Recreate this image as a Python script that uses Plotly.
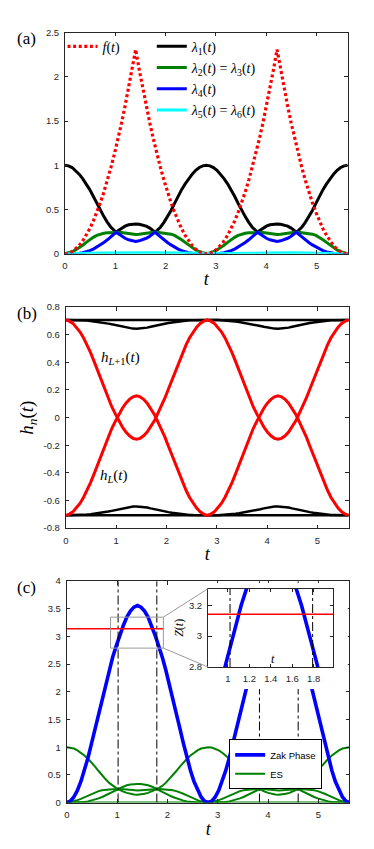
import plotly.graph_objects as go

W, H = 374, 849
SERIF = '"Liberation Serif", "Times New Roman", serif'
SANS = '"Liberation Sans", Arial, sans-serif'
AXC = "#262626"

# ---------------- data ----------------
t = [0.000, 0.070, 0.141, 0.211, 0.281, 0.351, 0.422, 0.492, 0.562, 0.632, 0.703, 0.773, 0.843, 0.913, 0.984, 1.020, 1.054, 1.124, 1.194, 1.265, 1.335, 1.405,
     1.475, 1.546, 1.616, 1.686, 1.756, 1.790, 1.827, 1.897, 1.967, 2.037, 2.108, 2.178, 2.248, 2.318, 2.389, 2.459, 2.529, 2.599, 2.670, 2.740, 2.810,
     2.880, 2.951, 3.021, 3.091, 3.161, 3.232, 3.302, 3.372, 3.442, 3.513, 3.583, 3.653, 3.723, 3.794, 3.830, 3.864, 3.934, 4.004, 4.075, 4.145, 4.215,
     4.285, 4.356, 4.426, 4.496, 4.566, 4.600, 4.637, 4.707, 4.777, 4.847, 4.918, 4.988, 5.058, 5.128, 5.199, 5.269, 5.339, 5.409, 5.480, 5.550, 5.620]

f_t = [0, 0.006, 0.023, 0.052, 0.092, 0.144, 0.208, 0.283, 0.369, 0.468, 0.577, 0.699, 0.831, 0.976, 1.132, 1.217, 1.299, 1.478, 1.669, 1.871, 2.084, 2.31,
       2.084, 1.871, 1.669, 1.478, 1.299, 1.217, 1.132, 0.976, 0.831, 0.699, 0.577, 0.468, 0.369, 0.283, 0.208, 0.144, 0.092, 0.052, 0.023, 0.006, 0,
       0.006, 0.023, 0.052, 0.092, 0.144, 0.208, 0.283, 0.369, 0.468, 0.577, 0.699, 0.831, 0.976, 1.132, 1.217, 1.299, 1.478, 1.669, 1.871, 2.084, 2.31,
       2.084, 1.871, 1.669, 1.478, 1.299, 1.217, 1.132, 0.976, 0.831, 0.699, 0.577, 0.468, 0.369, 0.283, 0.208, 0.144, 0.092, 0.052, 0.023, 0.006, 0]

lam1 = [1.0, 0.994, 0.975, 0.943, 0.9, 0.85, 0.79, 0.725, 0.65, 0.57, 0.49, 0.42, 0.355, 0.3, 0.262, 0.245, 0.26, 0.29, 0.312, 0.327, 0.334, 0.336,
        0.334, 0.327, 0.312, 0.29, 0.26, 0.245, 0.262, 0.3, 0.355, 0.42, 0.49, 0.57, 0.65, 0.725, 0.79, 0.85, 0.9, 0.943, 0.975, 0.994, 1.0,
        0.994, 0.975, 0.943, 0.9, 0.85, 0.79, 0.725, 0.65, 0.57, 0.49, 0.42, 0.355, 0.3, 0.262, 0.245, 0.26, 0.29, 0.312, 0.327, 0.334, 0.336,
        0.334, 0.327, 0.312, 0.29, 0.26, 0.245, 0.262, 0.3, 0.355, 0.42, 0.49, 0.57, 0.65, 0.725, 0.79, 0.85, 0.9, 0.943, 0.975, 0.994, 1.0]

lam23 = [0, 0.01, 0.022, 0.043, 0.067, 0.097, 0.129, 0.159, 0.186, 0.207, 0.221, 0.232, 0.237, 0.239, 0.243, 0.245, 0.243, 0.24, 0.234, 0.227, 0.221, 0.217,
         0.221, 0.227, 0.234, 0.24, 0.243, 0.245, 0.243, 0.239, 0.237, 0.232, 0.221, 0.207, 0.186, 0.159, 0.129, 0.097, 0.067, 0.043, 0.022, 0.01, 0,
         0.01, 0.022, 0.043, 0.067, 0.097, 0.129, 0.159, 0.186, 0.207, 0.221, 0.232, 0.237, 0.239, 0.243, 0.245, 0.243, 0.24, 0.234, 0.227, 0.221, 0.217,
         0.221, 0.227, 0.234, 0.24, 0.243, 0.245, 0.243, 0.239, 0.237, 0.232, 0.221, 0.207, 0.186, 0.159, 0.129, 0.097, 0.067, 0.043, 0.022, 0.01, 0]

lam4 = [0, 0.0001, 0.0005, 0.002, 0.005, 0.011, 0.021, 0.035, 0.053, 0.075, 0.1, 0.128, 0.158, 0.19, 0.225, 0.245, 0.228, 0.198, 0.175, 0.158, 0.146, 0.14,
        0.146, 0.158, 0.175, 0.198, 0.228, 0.245, 0.225, 0.19, 0.158, 0.128, 0.1, 0.075, 0.053, 0.035, 0.021, 0.011, 0.005, 0.002, 0.0005, 0.0001, 0,
        0.0001, 0.0005, 0.002, 0.005, 0.011, 0.021, 0.035, 0.053, 0.075, 0.1, 0.128, 0.158, 0.19, 0.225, 0.245, 0.228, 0.198, 0.175, 0.158, 0.146, 0.14,
        0.146, 0.158, 0.175, 0.198, 0.228, 0.245, 0.225, 0.19, 0.158, 0.128, 0.1, 0.075, 0.053, 0.035, 0.021, 0.011, 0.005, 0.002, 0.0005, 0.0001, 0]

lam56 = [0, 0, 0.0002, 0.0005, 0.001, 0.0017, 0.0025, 0.0035, 0.0045, 0.0056, 0.0067, 0.0078, 0.0088, 0.0097, 0.0105, 0.0108, 0.0112, 0.0117, 0.0121, 0.0124, 0.0126, 0.0127,
         0.0126, 0.0124, 0.0121, 0.0117, 0.0112, 0.0108, 0.0105, 0.0097, 0.0088, 0.0078, 0.0067, 0.0056, 0.0045, 0.0035, 0.0025, 0.0017, 0.001, 0.0005, 0.0002, 0, 0,
         0, 0.0002, 0.0005, 0.001, 0.0017, 0.0025, 0.0035, 0.0045, 0.0056, 0.0067, 0.0078, 0.0088, 0.0097, 0.0105, 0.0108, 0.0112, 0.0117, 0.0121, 0.0124, 0.0126, 0.0127,
         0.0126, 0.0124, 0.0121, 0.0117, 0.0112, 0.0108, 0.0105, 0.0097, 0.0088, 0.0078, 0.0067, 0.0056, 0.0045, 0.0035, 0.0025, 0.0017, 0.001, 0.0005, 0.0002, 0, 0]

h_L1 = [0.707, 0.698, 0.682, 0.655, 0.621, 0.578, 0.526, 0.47, 0.407, 0.34, 0.271, 0.205, 0.14, 0.079, 0.027, 0.0, -0.025, -0.068, -0.104, -0.132, -0.15, -0.157,
        -0.15, -0.132, -0.104, -0.068, -0.025, 0.0, 0.027, 0.079, 0.14, 0.205, 0.271, 0.34, 0.407, 0.47, 0.526, 0.578, 0.621, 0.655, 0.682, 0.698, 0.707,
        0.698, 0.682, 0.655, 0.621, 0.578, 0.526, 0.47, 0.407, 0.34, 0.271, 0.205, 0.14, 0.079, 0.027, 0.0, -0.025, -0.068, -0.104, -0.132, -0.15, -0.157,
        -0.15, -0.132, -0.104, -0.068, -0.025, 0.0, 0.027, 0.079, 0.14, 0.205, 0.271, 0.34, 0.407, 0.47, 0.526, 0.578, 0.621, 0.655, 0.682, 0.698, 0.707]

h_L = [-0.707, -0.698, -0.682, -0.655, -0.621, -0.578, -0.526, -0.47, -0.407, -0.34, -0.271, -0.205, -0.14, -0.079, -0.027, 0.0, 0.025, 0.068, 0.104, 0.132, 0.15, 0.157,
       0.15, 0.132, 0.104, 0.068, 0.025, 0.0, -0.027, -0.079, -0.14, -0.205, -0.271, -0.34, -0.407, -0.47, -0.526, -0.578, -0.621, -0.655, -0.682, -0.698, -0.707,
       -0.698, -0.682, -0.655, -0.621, -0.578, -0.526, -0.47, -0.407, -0.34, -0.271, -0.205, -0.14, -0.079, -0.027, 0.0, 0.025, 0.068, 0.104, 0.132, 0.15, 0.157,
       0.15, 0.132, 0.104, 0.068, 0.025, 0.0, -0.027, -0.079, -0.14, -0.205, -0.271, -0.34, -0.407, -0.47, -0.526, -0.578, -0.621, -0.655, -0.682, -0.698, -0.707]

h_top = [0.707, 0.707, 0.707, 0.706, 0.705, 0.704, 0.702, 0.699, 0.696, 0.692, 0.688, 0.684, 0.68, 0.675, 0.67, 0.667, 0.663, 0.657, 0.651, 0.646, 0.644, 0.643,
         0.644, 0.646, 0.651, 0.657, 0.663, 0.667, 0.67, 0.675, 0.68, 0.684, 0.688, 0.692, 0.696, 0.699, 0.702, 0.704, 0.705, 0.706, 0.707, 0.707, 0.707,
         0.707, 0.707, 0.706, 0.705, 0.704, 0.702, 0.699, 0.696, 0.692, 0.688, 0.684, 0.68, 0.675, 0.67, 0.667, 0.663, 0.657, 0.651, 0.646, 0.644, 0.643,
         0.644, 0.646, 0.651, 0.657, 0.663, 0.667, 0.67, 0.675, 0.68, 0.684, 0.688, 0.692, 0.696, 0.699, 0.702, 0.704, 0.705, 0.706, 0.707, 0.707, 0.707]

h_bot = [-0.707, -0.707, -0.707, -0.706, -0.705, -0.704, -0.702, -0.699, -0.696, -0.692, -0.688, -0.684, -0.68, -0.675, -0.67, -0.667, -0.663, -0.657, -0.651, -0.646, -0.644, -0.643,
         -0.644, -0.646, -0.651, -0.657, -0.663, -0.667, -0.67, -0.675, -0.68, -0.684, -0.688, -0.692, -0.696, -0.699, -0.702, -0.704, -0.705, -0.706, -0.707, -0.707, -0.707,
         -0.707, -0.707, -0.706, -0.705, -0.704, -0.702, -0.699, -0.696, -0.692, -0.688, -0.684, -0.68, -0.675, -0.67, -0.667, -0.663, -0.657, -0.651, -0.646, -0.644, -0.643,
         -0.644, -0.646, -0.651, -0.657, -0.663, -0.667, -0.67, -0.675, -0.68, -0.684, -0.688, -0.692, -0.696, -0.699, -0.702, -0.704, -0.705, -0.706, -0.707, -0.707, -0.707]

flat_t = [0.0, 5.62]
flat_hi = [0.7071, 0.7071]
flat_lo = [-0.7071, -0.7071]

zak = [0, 0.025, 0.1, 0.22, 0.38, 0.58, 0.81, 1.07, 1.34, 1.61, 1.88, 2.15, 2.4, 2.63, 2.83, 2.93, 3.02, 3.2, 3.35, 3.46, 3.53, 3.56,
       3.53, 3.46, 3.35, 3.2, 3.02, 2.93, 2.83, 2.63, 2.4, 2.15, 1.88, 1.61, 1.34, 1.07, 0.81, 0.58, 0.38, 0.22, 0.1, 0.025, 0,
       0.025, 0.1, 0.22, 0.38, 0.58, 0.81, 1.07, 1.34, 1.61, 1.88, 2.15, 2.4, 2.63, 2.83, 2.93, 3.02, 3.2, 3.35, 3.46, 3.53, 3.56,
       3.53, 3.46, 3.35, 3.2, 3.02, 2.93, 2.83, 2.63, 2.4, 2.15, 1.88, 1.61, 1.34, 1.07, 0.81, 0.58, 0.38, 0.22, 0.1, 0.025, 0]

cross_t = [1.02, 1.79, 3.83, 4.60]
pi_val = 3.1416
pi_t_main = [0.0, 1.92]
pi_t_inset = [0.7, 2.1]
zoom_box_t = [0.87, 1.92]
zoom_box_z = [2.79, 3.35]

t_range = [0, 5.62]
yA_range = [0, 2.5]
yB_range = [-0.8, 0.8]
yC_range = [0, 4]
xI_range = [0.815, 1.98]
yI_range = [2.8, 3.307]

t_ticks = [0, 1, 2, 3, 4, 5]
t_text = ["0", "1", "2", "3", "4", "5"]
yA_ticks = [0, 0.5, 1, 1.5, 2, 2.5]
yA_text = ["0", "0.5", "1", "1.5", "2", "2.5"]
yB_ticks = [-0.8, -0.6, -0.4, -0.2, 0, 0.2, 0.4, 0.6, 0.8]
yB_text = ["-0.8", "-0.6", "-0.4", "-0.2", "0", "0.2", "0.4", "0.6", "0.8"]
yC_ticks = [0, 0.5, 1, 1.5, 2, 2.5, 3, 3.5, 4]
yC_text = ["0", "0.5", "1", "1.5", "2", "2.5", "3", "3.5", "4"]
xI_ticks = [1, 1.2, 1.4, 1.6, 1.8]
xI_text = ["1", "1.2", "1.4", "1.6", "1.8"]
yI_ticks = [2.8, 3.0, 3.2]
yI_text = ["2.8", "3", "3.2"]


# ---------------- layout helpers ----------------
def px_x(p):
    return p / W


def px_y(p):
    return 1 - p / H


def dom_x(a, b):
    return [px_x(a), px_x(b)]


def dom_y(top, bottom):
    return [px_y(bottom), px_y(top)]


DA = (dom_x(62.5, 347.5), dom_y(27, 251))
DB = (dom_x(63.3, 348.5), dom_y(305, 529))
DC = (dom_x(64.3, 349.3), dom_y(582.7, 807))
DP = (dom_x(175, 347.5), dom_y(584.5, 692))
DI = (dom_x(206.7, 332.7), dom_y(590.3, 669.7))


def axis(domain, rng, tickvals, ticktext, anchor, title=None, standoff=2, tsize=18):
    d = dict(domain=domain, range=rng, tickvals=tickvals, ticktext=ticktext, anchor=anchor,
             showline=True, linecolor=AXC, linewidth=1, mirror="ticks",
             ticks="inside", ticklen=3.5, tickwidth=1, tickcolor=AXC,
             showgrid=False, zeroline=False, fixedrange=True,
             tickfont=dict(family=SANS, size=9.5, color=AXC), ticklabelstandoff=3)
    if title:
        d["title"] = dict(text=title, font=dict(family=SERIF, size=tsize, color="black"), standoff=standoff)
    return d


fig = go.Figure()

# ---------------- panel (a) ----------------
fig.add_trace(go.Scatter(x=t, y=lam1, mode="lines", line=dict(color="black", width=3),
                         name="<i>λ</i><sub>1</sub>(<i>t</i>)", legend="legend2", xaxis="x", yaxis="y"))
fig.add_trace(go.Scatter(x=t, y=lam23, mode="lines", line=dict(color="#008000", width=3),
                         name="<i>λ</i><sub>2</sub>(<i>t</i>) = <i>λ</i><sub>3</sub>(<i>t</i>)", legend="legend2", xaxis="x", yaxis="y"))
fig.add_trace(go.Scatter(x=t, y=lam4, mode="lines", line=dict(color="#0000FF", width=3),
                         name="<i>λ</i><sub>4</sub>(<i>t</i>)", legend="legend2", xaxis="x", yaxis="y"))
fig.add_trace(go.Scatter(x=t, y=lam56, mode="lines", line=dict(color="#00FFFF", width=3),
                         name="<i>λ</i><sub>5</sub>(<i>t</i>) = <i>λ</i><sub>6</sub>(<i>t</i>)", legend="legend2", xaxis="x", yaxis="y"))
fig.add_trace(go.Scatter(x=t, y=f_t, mode="lines", line=dict(color="#FF0000", width=3.2, dash="3px,2.6px"),
                         name="<i>f</i>(<i>t</i>)", legend="legend", xaxis="x", yaxis="y"))

# ---------------- panel (b) ----------------
for yy in (flat_hi, flat_lo):
    fig.add_trace(go.Scatter(x=flat_t, y=yy, mode="lines", line=dict(color="black", width=2.5),
                             showlegend=False, xaxis="x2", yaxis="y2"))
for yy in (h_top, h_bot):
    fig.add_trace(go.Scatter(x=t, y=yy, mode="lines", line=dict(color="black", width=2.5),
                             showlegend=False, xaxis="x2", yaxis="y2"))
for yy in (h_L1, h_L):
    fig.add_trace(go.Scatter(x=t, y=yy, mode="lines", line=dict(color="#FF0000", width=3),
                             showlegend=False, xaxis="x2", yaxis="y2"))

# ---------------- panel (c) ----------------
for i, yy in enumerate((lam1, lam23, lam4, lam56)):
    fig.add_trace(go.Scatter(x=t, y=yy, mode="lines", line=dict(color="#008000", width=2),
                             name="ES", legend="legend3", legendrank=2, showlegend=(i == 0),
                             xaxis="x3", yaxis="y3"))
fig.add_trace(go.Scatter(x=t, y=zak, mode="lines", line=dict(color="#0000FF", width=3.6),
                         name="Zak Phase", legend="legend3", legendrank=1, xaxis="x3", yaxis="y3"))

vx, vy = [], []
for ct in cross_t:
    vx += [ct, ct, None]
    vy += [yC_range[0], yC_range[1], None]
fig.add_trace(go.Scatter(x=vx, y=vy, mode="lines", line=dict(color="black", width=1, dash="dashdot"),
                         showlegend=False, xaxis="x3", yaxis="y3"))
fig.add_trace(go.Scatter(x=pi_t_main, y=[pi_val, pi_val], mode="lines", line=dict(color="#FF0000", width=1.5),
                         showlegend=False, xaxis="x3", yaxis="y3"))

# empty trace that creates the masking subplot (x4, y4) between panel (c) and the inset
fig.add_trace(go.Scatter(x=[], y=[], mode="lines", showlegend=False, xaxis="x4", yaxis="y4", hoverinfo="skip"))

# ---------------- inset ----------------
fig.add_trace(go.Scatter(x=t, y=zak, mode="lines", line=dict(color="#0000FF", width=3.6),
                         showlegend=False, xaxis="x5", yaxis="y5"))
ix, iy = [], []
for ct in cross_t[:2]:
    ix += [ct, ct, None]
    iy += [yI_range[0], yI_range[1], None]
fig.add_trace(go.Scatter(x=ix, y=iy, mode="lines", line=dict(color="black", width=1, dash="dashdot"),
                         showlegend=False, xaxis="x5", yaxis="y5"))
fig.add_trace(go.Scatter(x=pi_t_inset, y=[pi_val, pi_val], mode="lines", line=dict(color="#FF0000", width=1.5),
                         showlegend=False, xaxis="x5", yaxis="y5"))

# ---------------- axes ----------------
tt = "<i>t</i>"
fig.update_layout(
    xaxis=axis(DA[0], t_range, t_ticks, t_text, "y", tt, 2),
    yaxis=axis(DA[1], yA_range, yA_ticks, yA_text, "x"),
    xaxis2=axis(DB[0], t_range, t_ticks, t_text, "y2", tt, 2),
    yaxis2=axis(DB[1], yB_range, yB_ticks, yB_text, "x2",
                "<i>h</i><sub><i>n</i></sub>(<i>t</i>)", 4, 19),
    xaxis3=axis(DC[0], t_range, t_ticks, t_text, "y3", tt, 3),
    yaxis3=axis(DC[1], yC_range, yC_ticks, yC_text, "x3"),
    xaxis4=dict(domain=DP[0], range=[0, 1], visible=False, anchor="y4", fixedrange=True),
    yaxis4=dict(domain=DP[1], range=[0, 1], visible=False, anchor="x4", fixedrange=True),
    xaxis5=axis(DI[0], xI_range, xI_ticks, xI_text, "y5"),
    yaxis5=axis(DI[1], yI_range, yI_ticks, yI_text, "x5", "<i>Z</i>(<i>t</i>)", 2, 12),
)

# mask (drawn in the x4y4 subplot layer: above panel (c), below the inset)
fig.add_shape(type="rect", xref="x4", yref="y4", x0=0, x1=1, y0=0, y1=1, layer="below",
              fillcolor="white", line=dict(width=0))


def to_paper(val, dom, rng):
    return dom[0] + (val - rng[0]) / (rng[1] - rng[0]) * (dom[1] - dom[0])


GRAY = "#9a9a9a"
fig.add_shape(type="rect", xref="x3", yref="y3", x0=zoom_box_t[0], x1=zoom_box_t[1],
              y0=zoom_box_z[0], y1=zoom_box_z[1], line=dict(color=GRAY, width=1), layer="above")
rx = to_paper(zoom_box_t[1], DC[0], t_range)
ry_top = to_paper(zoom_box_z[1], DC[1], yC_range)
ry_bot = to_paper(zoom_box_z[0], DC[1], yC_range)
fig.add_shape(type="line", xref="paper", yref="paper", x0=rx, y0=ry_top, x1=DI[0][0], y1=DI[1][1],
              line=dict(color=GRAY, width=1), layer="above")
fig.add_shape(type="line", xref="paper", yref="paper", x0=rx, y0=ry_bot, x1=DI[0][0], y1=DI[1][0],
              line=dict(color=GRAY, width=1), layer="above")

# ---------------- annotations ----------------
ann = []
for lbl, (cx, cy) in (("(a)", (24, 33)), ("(b)", (24.5, 312)), ("(c)", (24, 589))):
    ann.append(dict(text=lbl, x=px_x(cx), y=px_y(cy), xref="paper", yref="paper", showarrow=False,
                    xanchor="center", yanchor="middle", font=dict(family=SERIF, size=17, color="black")))
ann.append(dict(text="<i>h</i><sub><i>L</i>+1</sub>(<i>t</i>)", x=1.08, y=0.43, xref="x2", yref="y2",
                showarrow=False, font=dict(family=SERIF, size=15, color="black")))
ann.append(dict(text="<i>h</i><sub><i>L</i></sub>(<i>t</i>)", x=0.96, y=-0.42, xref="x2", yref="y2",
                showarrow=False, font=dict(family=SERIF, size=15, color="black")))
ann.append(dict(text="<i>t</i>", x=px_x(271.7), y=px_y(661.5), xref="paper", yref="paper", showarrow=False,
                xanchor="center", yanchor="middle", font=dict(family=SERIF, size=12, color="black")))

fig.update_layout(
    width=W, height=H, margin=dict(l=0, r=0, t=0, b=0),
    paper_bgcolor="white", plot_bgcolor="white",
    annotations=ann,
    legend=dict(x=px_x(60), y=px_y(25), xanchor="left", yanchor="top", bgcolor="rgba(0,0,0,0)",
                font=dict(family=SERIF, size=14, color="black"), tracegroupgap=0),
    legend2=dict(x=px_x(150), y=px_y(25), xanchor="left", yanchor="top", bgcolor="rgba(0,0,0,0)",
                 font=dict(family=SERIF, size=14, color="black"), tracegroupgap=0),
    legend3=dict(x=px_x(228), y=px_y(743), xanchor="left", yanchor="top", bgcolor="white",
                 bordercolor="black", borderwidth=1,
                 font=dict(family=SANS, size=9.5, color="black"), tracegroupgap=0),
    hovermode=False,
)

fig.write_html("out.html", config={"displayModeBar": False},
               post_script="document.body.style.margin='0px';")
